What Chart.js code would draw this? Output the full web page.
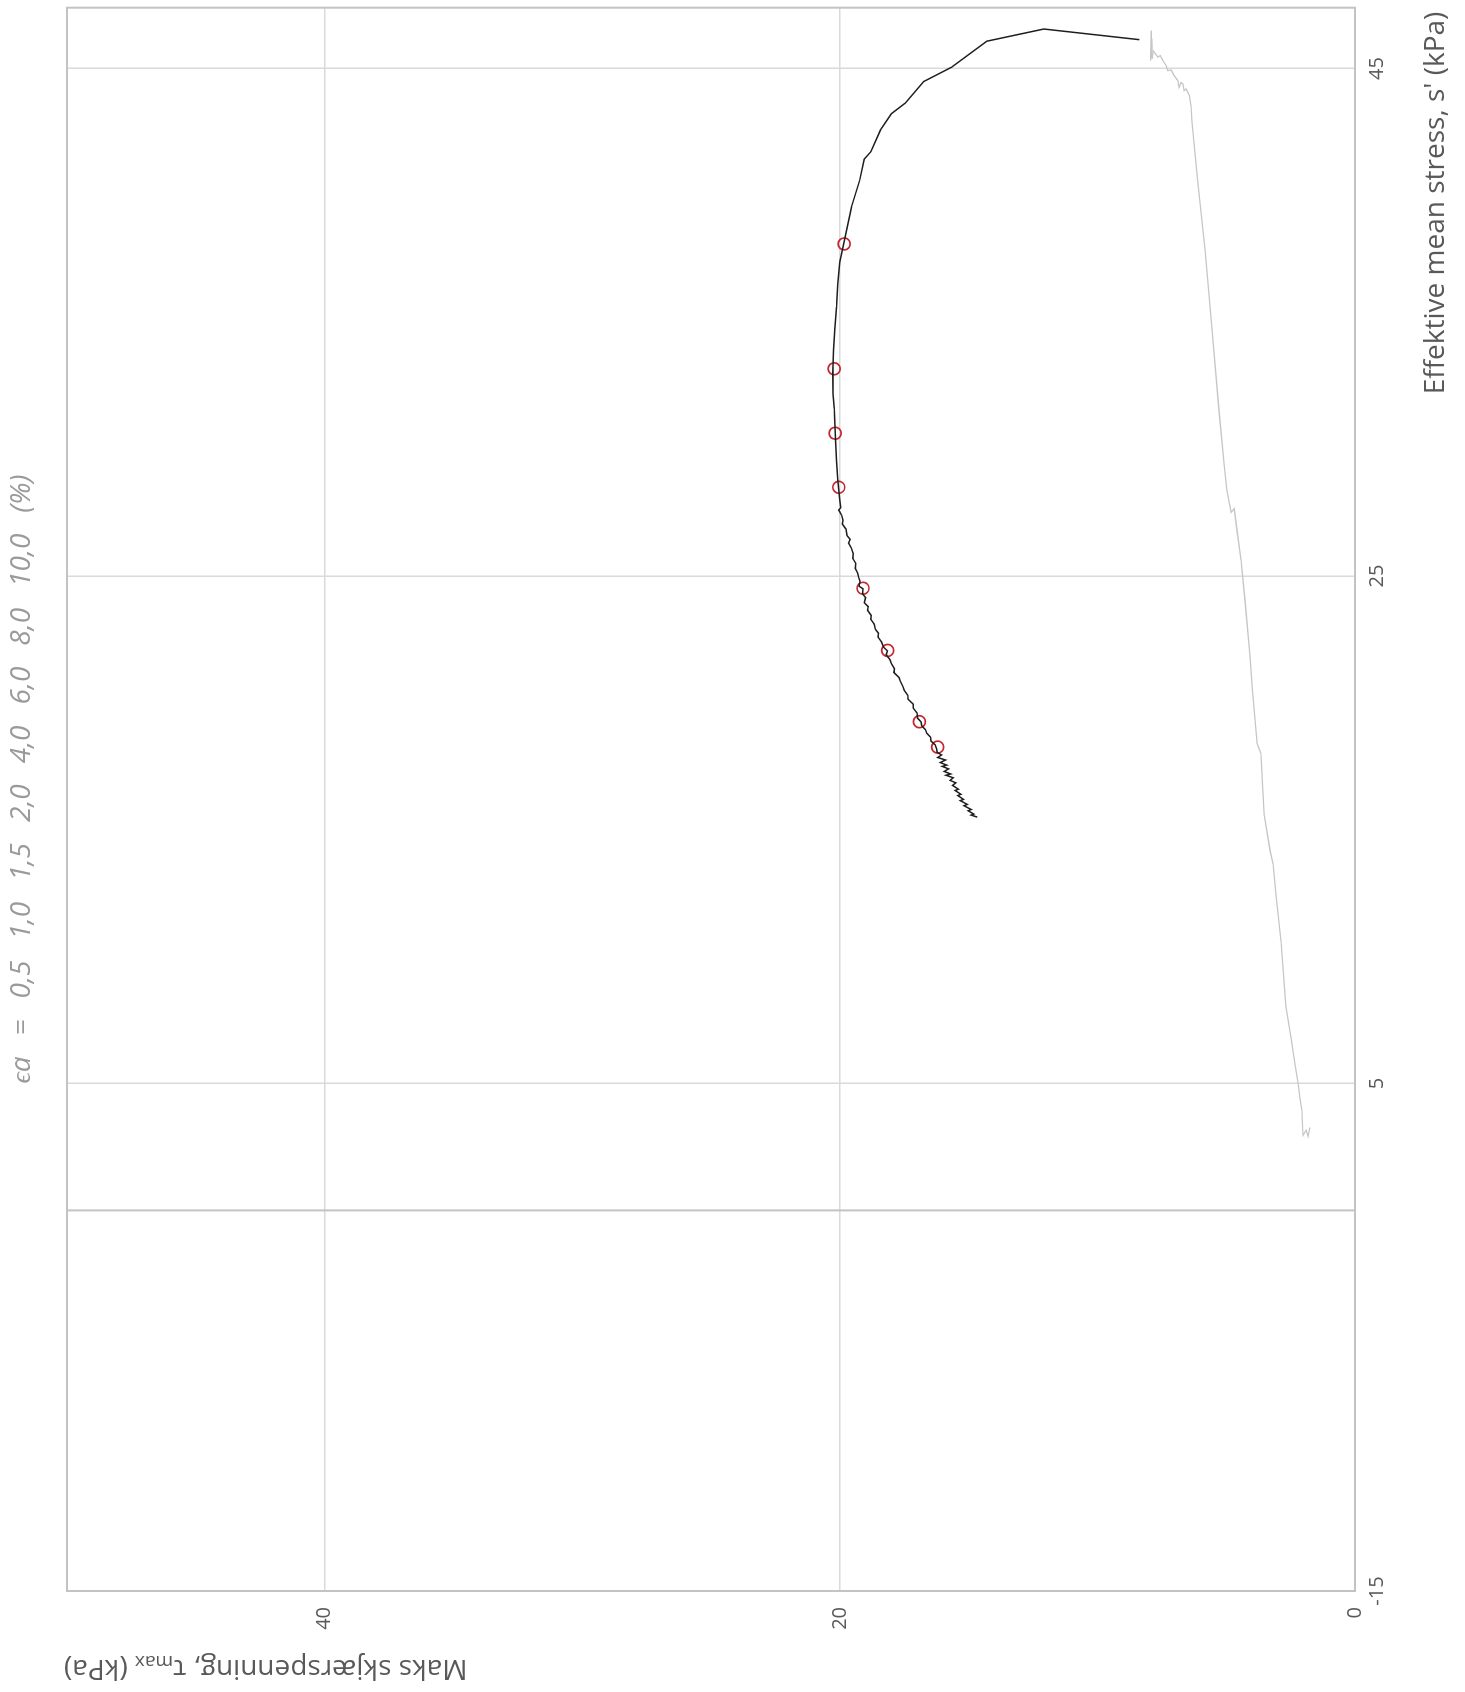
<!DOCTYPE html>
<html>
<head>
<meta charset="utf-8">
<script src="https://cdn.jsdelivr.net/npm/chart.js@4.4.1/dist/chart.umd.min.js"></script>
<style>
  html, body { margin: 0; padding: 0; background: #fff; overflow: hidden; }
  body { width: 1465px; height: 1692px; position: relative; }
  #wrap {
    position: absolute; left: 0; top: 0;
    width: 1692px; height: 1465px;
    transform-origin: 0 0;
    transform: translateY(1692px) rotate(-90deg);
  }
</style>
</head>
<body>
<div id="wrap"><canvas id="chart" width="1692" height="1465"></canvas></div>
<script>
// effective stress path, s' (kPa) and tau max (kPa)
const pathS = [46.14, 46.56, 46.08, 45.05, 44.49, 43.64, 43.22, 42.58, 41.73, 41.43, 40.59, 39.54, 38.29, 37.37,
  36.5, 35.6, 34.7, 33.89, 33.0, 32.18, 31.6, 31.13, 30.4, 29.55, 28.8,
  28.0, 27.7, 27.6, 27.4, 27.2, 27.05, 26.85, 26.6, 26.45, 26.3, 26.1, 25.88, 25.7, 25.5, 25.3, 25.1, 24.95,
  24.8, 24.6, 24.5, 24.3, 24.15, 23.95, 23.8, 23.65, 23.45, 23.3, 23.1, 22.9, 22.75, 22.6, 22.4, 22.2, 22.05,
  21.9, 21.7, 21.55, 21.35, 21.2, 21.0, 20.85, 20.65, 20.5, 20.3, 20.15, 19.95, 19.8, 19.6, 19.4, 19.25, 19.1,
  18.95, 18.8, 18.65, 18.5, 18.35, 18.2, 18.05, 17.95, 17.85, 17.75, 17.65, 17.55, 17.5, 17.4, 17.3, 17.2,
  17.15, 17.05, 16.95, 16.85, 16.75, 16.6, 16.55, 16.4, 16.35, 16.2, 16.15, 16.0, 15.95, 15.8, 15.75, 15.62,
  15.58, 15.5];
const pathTau = [8.37, 12.08, 14.29, 15.67, 16.74, 17.46, 18.0, 18.42, 18.79, 19.05, 19.23, 19.55, 19.81, 20.0,
  20.08, 20.13, 20.2, 20.24, 20.27, 20.26, 20.22, 20.2, 20.17, 20.13, 20.08,
  20.0, 19.96, 20.04, 19.93, 19.88, 19.9, 19.76, 19.72, 19.6, 19.66, 19.55, 19.48, 19.5, 19.38, 19.4, 19.3, 19.27,
  19.22, 19.25, 19.1, 19.12, 19.0, 19.05, 18.9, 18.92, 18.78, 18.8, 18.66, 18.62, 18.5, 18.52, 18.38, 18.3, 18.15,
  18.2, 18.05, 18.0, 17.88, 17.9, 17.7, 17.65, 17.55, 17.5, 17.36, 17.35, 17.15, 17.15, 17.0, 16.98, 16.85, 16.82,
  16.68, 16.62, 16.48, 16.46, 16.3, 16.25, 16.22, 16.05, 16.2, 15.9, 16.1, 15.85, 16.02, 15.78, 15.95, 15.7,
  15.88, 15.6, 15.72, 15.5, 15.62, 15.4, 15.52, 15.3, 15.42, 15.2, 15.32, 15.05, 15.18, 14.9, 15.02, 14.8,
  14.9, 14.66];

// grey curve
const greyS = [46.5, 45.32, 46.18, 45.39, 45.71, 45.45, 45.51, 45.32, 45.12, 44.92, 44.95, 44.72, 44.53, 44.26,
  44.45, 44.4, 44.13, 44.2, 43.94, 43.48, 42.95, 40.59, 37.83, 34.68,
  31.52, 29.4, 28.38, 27.51, 27.66, 26.8, 25.6, 24.04, 21.79, 20.65, 18.4, 18.01, 15.61, 14.19, 13.64, 12.38,
  10.56, 8.04, 6.78, 5.79, 5.0, 4.37, 3.94, 2.96, 3.16, 2.92, 3.27];
const greyTau = [7.91, 7.93, 7.89, 7.87, 7.84, 7.65, 7.56, 7.46, 7.33, 7.27, 7.14, 7.02, 6.88, 6.83,
  6.75, 6.68, 6.63, 6.56, 6.43, 6.36, 6.33, 6.11, 5.82, 5.55,
  5.28, 5.08, 4.97, 4.81, 4.69, 4.58, 4.42, 4.27, 4.07, 3.99, 3.80, 3.65, 3.53, 3.30, 3.18, 3.06,
  2.87, 2.68, 2.48, 2.33, 2.21, 2.13, 2.06, 2.02, 1.90, 1.82, 1.75];

// strain markers
const strainLabels = ['0,5', '1,0', '1,5', '2,0', '4,0', '6,0', '8,0', '10,0'];
const markS = [38.09, 33.17, 30.63, 28.5, 24.52, 22.07, 19.26, 18.26];
const markTau = [19.83, 20.22, 20.18, 20.04, 19.1, 18.14, 16.91, 16.2];

const xTicks = [-15, 5, 25, 45];
const yTicks = [0, 20, 40];

const xTitle = "Effektive mean stress, s' (kPa)";
const titleTokens = ['ϵa', '='].concat(strainLabels, ['(%)']);

const toPoints = (xs, ys) => xs.map((x, i) => ({ x: x, y: ys[i] }));

const framePlugin = {
  id: 'frame',
  beforeDatasetsDraw(chart) {
    const { ctx, chartArea: a, scales } = chart;
    ctx.save();
    ctx.strokeStyle = '#c3c3c3';
    ctx.lineWidth = 2;
    const x0 = scales.x.getPixelForValue(0);
    ctx.beginPath();
    ctx.moveTo(x0, a.top);
    ctx.lineTo(x0, a.bottom);
    ctx.stroke();
    ctx.strokeRect(a.left, a.top, a.right - a.left, a.bottom - a.top);
    ctx.restore();
  },
  afterDraw(chart) {
    const { ctx, chartArea: a } = chart;
    ctx.save();
    // x axis title
    ctx.fillStyle = '#595959';
    ctx.font = '28px "Open Sans"';
    ctx.textAlign = 'right';
    ctx.textBaseline = 'middle';
    ctx.fillText(xTitle, a.right - 4, 1436);

    // y axis title with subscript
    const big = '28px "Open Sans"', small = '19px "Open Sans"';
    const parts = [['Maks skjærspenning, τ', big, 0], ['max', small, 7], [' (kPa)', big, 0]];
    let total = 0;
    parts.forEach(p => { ctx.font = p[1]; total += ctx.measureText(p[0]).width; });
    ctx.translate(24, a.top - 3 + total);
    ctx.rotate(-Math.PI / 2);
    ctx.textAlign = 'left';
    let cx = 0;
    parts.forEach(p => {
      ctx.font = p[1];
      ctx.fillText(p[0], cx, p[2]);
      cx += ctx.measureText(p[0]).width;
    });
    ctx.restore();

    // strain legend on top
    ctx.save();
    ctx.fillStyle = '#9a9a9a';
    ctx.font = 'italic 28px "Open Sans"';
    ctx.textAlign = 'left';
    ctx.textBaseline = 'middle';
    const gap = 21;
    let w = gap * (titleTokens.length - 1);
    titleTokens.forEach(t => { w += ctx.measureText(t).width; });
    let tx = 913 - w / 2;
    titleTokens.forEach(t => {
      ctx.fillText(t, tx, 22);
      tx += ctx.measureText(t).width + gap;
    });
    ctx.restore();
  }
};

new Chart(document.getElementById('chart'), {
  type: 'scatter',
  data: {
    datasets: [
      {
        data: toPoints(greyS, greyTau),
        showLine: true,
        borderColor: '#c6c6c6',
        borderWidth: 1.3,
        pointRadius: 0,
        tension: 0
      },
      {
        data: toPoints(pathS, pathTau),
        showLine: true,
        borderColor: '#1e1e1e',
        borderWidth: 1.5,
        pointRadius: 0,
        tension: 0
      },
      {
        data: toPoints(markS, markTau),
        showLine: false,
        pointRadius: 6,
        pointBorderWidth: 1.7,
        pointBorderColor: '#c4262e',
        pointBackgroundColor: 'rgba(0,0,0,0)'
      }
    ]
  },
  options: {
    responsive: false,
    animation: false,
    layout: { padding: { top: 67, right: 7, left: 0, bottom: 0 } },
    plugins: { legend: { display: false }, tooltip: { enabled: false } },
    scales: {
      x: {
        type: 'linear',
        min: -15,
        max: 47.4,
        afterBuildTicks: s => { s.ticks = xTicks.map(v => ({ value: v })); },
        afterFit: s => { s.height = 110; },
        border: { display: false },
        grid: { color: '#dadada', lineWidth: 1.5, drawTicks: false },
        ticks: { color: '#595959', font: { family: 'Open Sans', size: 20 }, padding: 10, maxRotation: 0 }
      },
      y: {
        type: 'linear',
        min: 0,
        max: 50,
        afterBuildTicks: s => { s.ticks = yTicks.map(v => ({ value: v })); },
        afterFit: s => { s.width = 101; },
        border: { display: false },
        grid: { color: '#dadada', lineWidth: 1.5, drawTicks: false },
        ticks: { color: '#595959', font: { family: 'Open Sans', size: 20 }, padding: 16 }
      }
    }
  },
  plugins: [framePlugin]
});
</script>
</body>
</html>
